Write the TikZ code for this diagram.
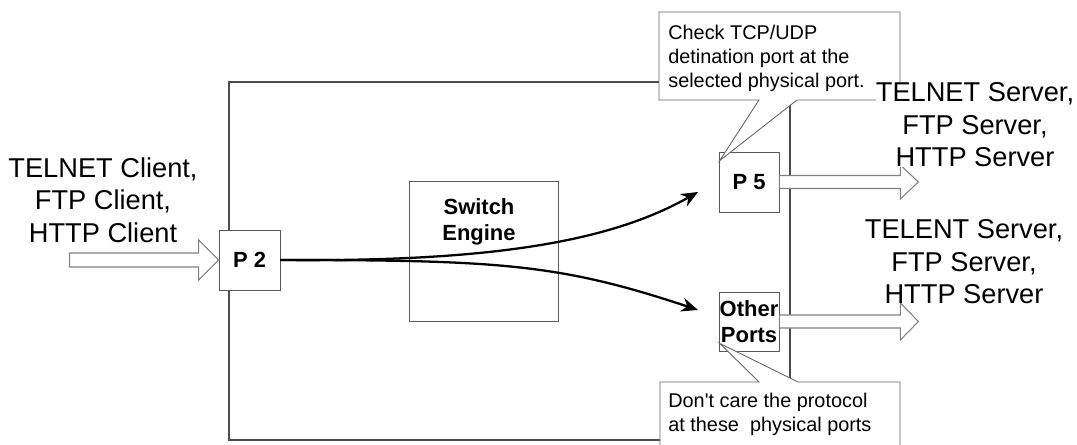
\documentclass[tikz,border=0pt]{standalone}
\usepackage{fontspec}
\setmainfont{Liberation Sans}
\usepackage{tikz}
\usetikzlibrary{arrows.meta}

\begin{document}
\begin{tikzpicture}[x=0.02cm, y=-0.02cm,
  port/.style={draw=black!65, fill=white, inner sep=0pt, align=center, font=\fontsize{12.5}{14.6}\selectfont\bfseries},
  hosts/.style={inner sep=0pt, align=center, font=\fontsize{15.5}{18.6}\selectfont},
  hollow/.style={draw=black!50, fill=white, line width=0.6pt, line join=miter},
  note/.style={draw=black!60, fill=white, line width=0.5pt},
  notetext/.style={inner sep=0pt, align=left, font=\fontsize{11.3}{13.6}\selectfont},
  flow/.style={-{Stealth[length=9.5pt,width=8pt]}, line width=1.3pt}]
  \useasboundingbox (0,0) rectangle (1077,445);

  % Marco del switch
  \draw[black!70, line width=0.7pt] (229,82) rectangle (790,440);

  % Puertos y motor
  \node[port, minimum width=1.22cm, minimum height=1.2cm] (P2) at (249.5,260) {P 2};
  \node[port, minimum width=2.98cm, minimum height=2.8cm] (SE) at (483.5,251) {};
  \node[port, draw=none, fill=none] (SEtxt) at (479,222) {Switch\\Engine};
  \node[port, minimum width=1.2cm, minimum height=1.2cm] (P5) at (749,182) {P 5};
  \node[port, minimum width=1.2cm, minimum height=1.18cm] (OP) at (749,321.5) {Other\\Ports};

  % Flechas huecas
  \draw[hollow] (P2.west) -- ++(-20,-20) -- ++(0,13) -- ++(-129,0) -- ++(0,14) -- ++(129,0) -- ++(0,13) -- cycle;
  \draw[hollow] (P5.east) ++(0,-6.5) -- ++(121,0) -- ++(0,-10.5) -- ++(18,17) -- ++(-18,17) -- ++(0,-10.5) -- ++(-121,0) -- cycle;
  \draw[hollow] (OP.east) ++(0,-6.5) -- ++(121,0) -- ++(0,-12) -- ++(18,18.5) -- ++(-18,18.5) -- ++(0,-12) -- ++(-121,0) -- cycle;

  % Notas
  \draw[note] (659,12) -- (900,12) -- (900,100) -- (797,100) -- ([shift={(1,9)}]P5.north west) -- (759,100) -- (659,100) -- cycle;
  \node[notetext, anchor=north west] (chk) at (668,25) {Check TCP/UDP\\detination port at the\\selected physical port.};
  \draw[note] (660,382) -- (759,382) -- ([shift={(1,-8)}]OP.south west) -- (798,382) -- (900,382) -- (900,447) -- (660,447) -- cycle;
  \node[notetext, anchor=north west] (dc) at (668,393) {Don\textquotesingle t care the protocol\\at these\ \ physical ports};

  % Clientes y servidores
  \node[hosts, anchor=north] (cli) at (103,157) {TELNET Client,\\FTP Client,\\HTTP Client};
  \node[hosts, anchor=north, fill=white] (srvA) at (975,82) {TELNET Server,\\FTP Server,\\HTTP Server};
  \node[hosts, anchor=north] (srvB) at (964,219) {TELENT Server,\\FTP Server,\\HTTP Server};

  % Trafico
  \coordinate (toP5) at (698,192);
  \coordinate (toOP) at (698,310);
  \draw[flow] (P2.east) .. controls (490,262) and (610,242) .. (toP5);
  \draw[flow] (P2.east) .. controls (500,260) and (560,264) .. (toOP);
\end{tikzpicture}
\end{document}
